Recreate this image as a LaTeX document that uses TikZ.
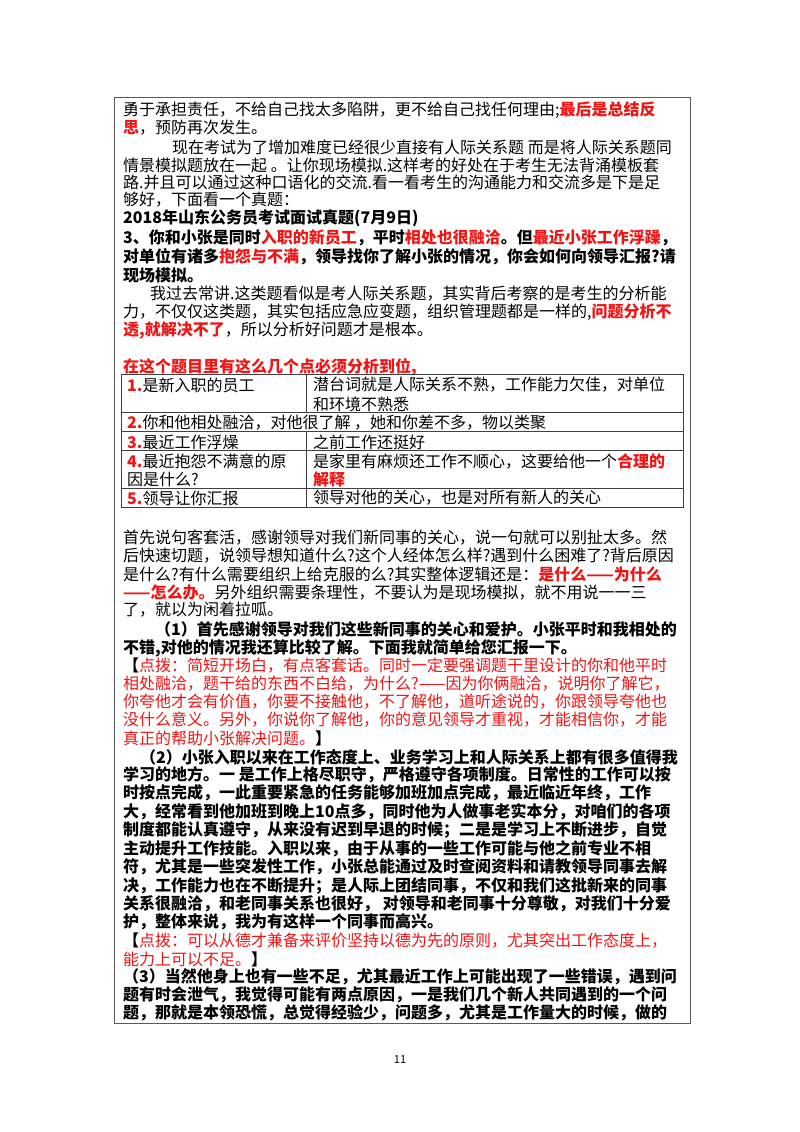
\documentclass[tikz,border=0pt]{standalone}
\usepackage{fontspec}
\setmainfont{Noto Sans CJK SC}
\XeTeXlinebreaklocale "zh"
\XeTeXlinebreakskip=0pt plus 6pt
\definecolor{hred}{RGB}{240,20,20}
\newcommand\R[1]{\textcolor{hred}{\bfseries #1}}
\newcommand\Rn[1]{\textcolor{hred}{#1}}
\newcommand\FL[4]{\node[fl,text width=#3pt] (#1) at (#2) {\parfillskip=0pt #4};}
\newcommand\LL[3]{\node[ll] (#1) at (#2) {#3};}
\tikzset{
  fl/.style={anchor=west,inner sep=0pt,align=justify,font=\fontsize{16}{18}\selectfont},
  ll/.style={anchor=west,inner sep=0pt,font=\fontsize{16}{18}\selectfont},
  tcell/.style={anchor=west,inner sep=0pt,font=\fontsize{16}{18}\selectfont},
  frame/.style={draw=black!65,line width=1pt},
  grid/.style={draw=black!75,line width=0.9pt}
}
\begin{document}
\begin{tikzpicture}[x=1pt,y=-1pt]
\useasboundingbox (0,0) rectangle (800,1132);
\draw[frame] (114,97) rectangle (690,1023);
% ---- first block
\FL{a1}{123,110}{559}{勇于承担责任，不给自己找太多陷阱，更不给自己找任何理由;\R{最后是总结反}}
\LL{a2}{123,128}{\R{思}，预防再次发生。}
\FL{a3}{172,147}{510}{现在考试为了增加难度已经很少直接有人际关系题 而是将人际关系题同}
\FL{a4}{123,165}{559}{情景模拟题放在一起 。让你现场模拟.这样考的好处在于考生无法背涌模板套}
\FL{a5}{123,182}{559}{路.并且可以通过这种口语化的交流.看一看考生的沟通能力和交流多是下是足}
\LL{a6}{123,200}{够好，下面看一个真题：}
\LL{a7}{123,218}{\bfseries 2018年山东公务员考试面试真题(7月9日)}
\FL{a8}{123,238}{559}{\bfseries 3、你和小张是同时\textcolor{hred}{入职的新员工}，平时\textcolor{hred}{相处也很融洽}。但\textcolor{hred}{最近小张工作浮躁}，}
\FL{a9}{123,257}{559}{\bfseries 对单位有诸多\textcolor{hred}{抱怨与不满}，领导找你了解小张的情况，你会如何向领导汇报?请}
\LL{a10}{123,275}{\bfseries 现场模拟。}
\FL{a11}{150,294}{532}{我过去常讲.这类题看似是考人际关系题，其实背后考察的是考生的分析能}
\FL{a12}{123,312}{559}{力，不仅仅这类题，其实包括应急应变题，组织管理题都是一样的,\R{问题分析不}}
\LL{a13}{123,330}{\R{透,就解决不了}，所以分析好问题才是根本。}
\LL{t0}{123,367}{\R{在这个题目里有这么几个点必须分析到位,}}
% ---- table
\draw[grid] (121,374) rectangle (683,507);
\draw[grid] (121,412) -- (683,412);
\draw[grid] (121,431) -- (683,431);
\draw[grid] (121,450) -- (683,450);
\draw[grid] (121,488) -- (683,488);
\draw[grid] (306,374) -- (306,412);
\draw[grid] (306,431) -- (306,507);
\node[tcell] (c11) at (127,385) {\R{1.}是新入职的员工};
\node[tcell] (c12a) at (313,385) {潜台词就是人际关系不熟，工作能力欠佳，对单位};
\node[tcell] (c12b) at (313,404) {和环境不熟悉};
\node[tcell] (c2) at (127,423) {\R{2.}你和他相处融洽，对他很了解 ，她和你差不多，物以类聚};
\node[tcell] (c31) at (127,442) {\R{3.}最近工作浮燥};
\node[tcell] (c32) at (313,442) {之前工作还挺好};
\node[tcell] (c41a) at (127,461) {\R{4.}最近抱怨不满意的原};
\node[tcell] (c41b) at (127,479) {因是什么?};
\node[tcell] (c42a) at (313,461) {是家里有麻烦还工作不顺心，这要给他一个\R{合理的}};
\node[tcell] (c42b) at (313,479) {\R{解释}};
\node[tcell] (c51) at (127,498) {\R{5.}领导让你汇报};
\node[tcell] (c52) at (313,498) {领导对他的关心，也是对所有新人的关心};
% ---- second block
\FL{b1}{123,538}{559}{首先说句客套活，感谢领导对我们新同事的关心，说一句就可以别扯太多。然}
\FL{b2}{123,556}{559}{后快速切题，说领导想知道什么?这个人经体怎么样?遇到什么困难了?背后原因}
\FL{b3}{123,574}{559}{是什么?有什么需要组织上给克服的么?其实整体逻辑还是：\R{是什么——为什么}}
\FL{b4}{123,592}{559}{\R{——怎么办。}另外组织需要条理性，不要认为是现场模拟，就不用说一一三}
\LL{b5}{123,610}{了，就以为闲着拉呱。}
\FL{c1}{155,629}{527}{\bfseries （1）首先感谢领导对我们这些新同事的关心和爱护。小张平时和我相处的}
\LL{c2}{123,648}{\bfseries 不错,对他的情况我还算比较了解。下面我就简单给您汇报一下。}
\FL{d1}{123,666}{559}{\textbf{【}\Rn{点拨：简短开场白，有点客套话。同时一定要强调题干里设计的你和他平时}}
\FL{d2}{123,684}{559}{\Rn{相处融洽，题干给的东西不白给，为什么?——因为你俩融洽，说明你了解它，}}
\FL{d3}{123,702}{559}{\Rn{你夸他才会有价值，你要不接触他，不了解他，道听途说的，你跟领导夸他也}}
\FL{d4}{123,720}{559}{\Rn{没什么意义。另外，你说你了解他，你的意见领导才重视，才能相信你，才能}}
\LL{d5}{123,738}{\Rn{真正的帮助小张解决问题。}\textbf{】}}
\FL{e1}{140,757}{542}{\bfseries （2）小张入职以来在工作态度上、业务学习上和人际关系上都有很多值得我}
\FL{e2}{123,775}{559}{\bfseries 学习的地方。一 是工作上格尽职守，严格遵守各项制度。日常性的工作可以按}
\FL{e3}{123,793}{559}{\bfseries 时按点完成，一此重要紧急的任务能够加班加点完成，最近临近年终，工作}
\FL{e4}{123,812}{559}{\bfseries 大，经常看到他加班到晚上10点多，同时他为人做事老实本分，对咱们的各项}
\FL{e5}{123,830}{559}{\bfseries 制度都能认真遵守，从来没有迟到早退的时候；二是是学习上不断进步，自觉}
\FL{e6}{123,849}{559}{\bfseries 主动提升工作技能。入职以来，由于从事的一些工作可能与他之前专业不相}
\FL{e7}{123,867}{559}{\bfseries 符，尤其是一些突发性工作，小张总能通过及时查阅资料和请教领导同事去解}
\FL{e8}{123,886}{559}{\bfseries 决，工作能力也在不断提升；是人际上团结同事，不仅和我们这批新来的同事}
\FL{e9}{123,904}{559}{\bfseries 关系很融洽，和老同事关系也很好， 对领导和老同事十分尊敬，对我们十分爱}
\LL{e10}{123,922}{\bfseries 护，整体来说，我为有这样一个同事而高兴。}
\FL{f1}{123,941}{559}{\textbf{【}\Rn{点拨：可以从德才兼备来评价坚持以德为先的原则，尤其突出工作态度上，}}
\LL{f2}{123,959}{\Rn{能力上可以不足。}\textbf{】}}
\FL{g1}{123,977}{559}{\bfseries （3）当然他身上也有一些不足，尤其最近工作上可能出现了一些错误，遇到问}
\FL{g2}{123,995}{559}{\bfseries 题有时会泄气，我觉得可能有两点原因，一是我们几个新人共同遇到的一个问}
\FL{g3}{123,1013}{559}{\bfseries 题，那就是本领恐慌，总觉得经验少，问题多，尤其是工作量大的时候，做的}
\node[font=\fontsize{11}{13}\selectfont] (pg) at (400,1060) {11};
\end{tikzpicture}
\end{document}
